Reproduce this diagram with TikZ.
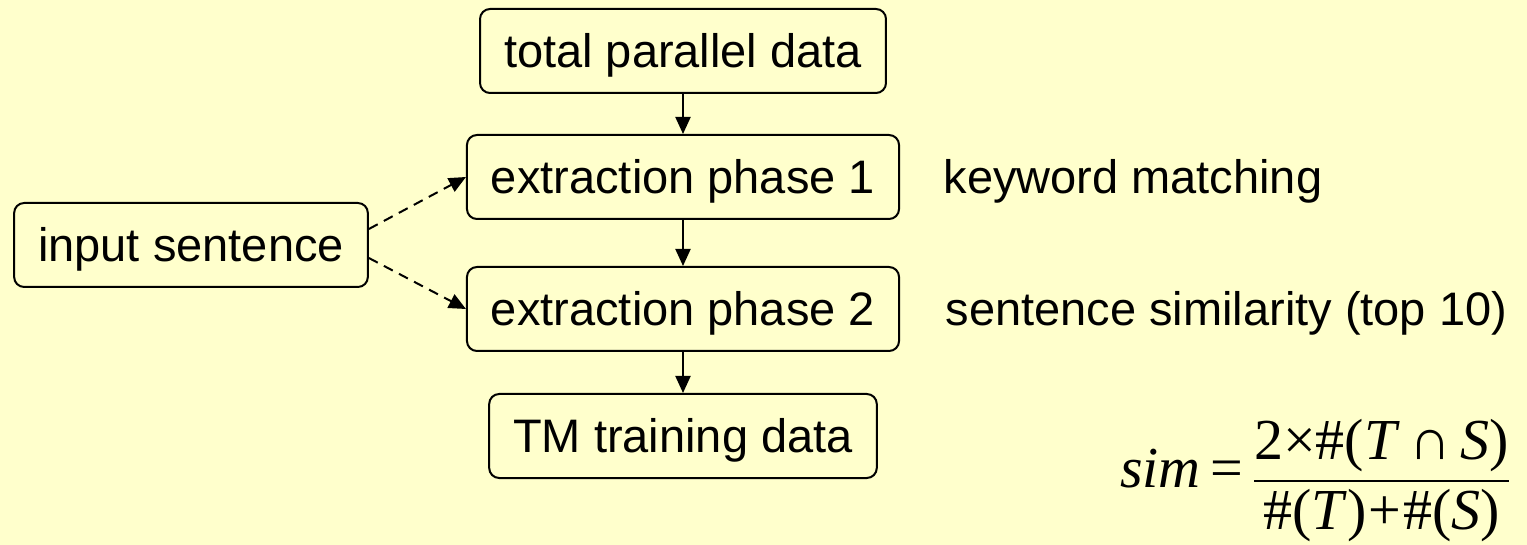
\documentclass[tikz,border=0pt]{standalone}
\usepackage{amsmath}
\usepackage{fontspec}
\setmainfont{Liberation Sans}
\newfontfamily\timesfont{Liberation Serif}
\usetikzlibrary{arrows.meta,positioning}
\definecolor{slidebg}{HTML}{FFFFCC}
\newcommand{\bigtext}{\fontsize{47}{56}\selectfont}
\newcommand{\formulatext}{\fontsize{58}{68}\selectfont\timesfont}

\begin{document}
\begin{tikzpicture}[
  x=1pt, y=-1pt,
  node distance=40pt,
  stage/.style={rectangle, rounded corners=10pt, draw=black, line width=2pt,
                inner xsep=24pt, minimum height=84pt,
                text height=36pt, text depth=2pt, font=\bigtext},
  flow/.style={-{Triangle[length=17pt,width=15pt]}, line width=2pt},
  query/.style={flow, dash pattern=on 10pt off 7pt},
  note/.style={font=\bigtext, anchor=base west},
]
  \fill[slidebg] (0,0) rectangle (1527,545);
  \useasboundingbox (0,0) rectangle (1527,545);

  % main extraction chain
  \node[stage] (total) at (683,51) {total parallel data};
  \node[stage, below=40pt of total] (phaseA) {extraction phase 1};
  \node[stage, below=46pt of phaseA] (phaseB) {extraction phase 2};
  \node[stage, below=41pt of phaseB] (tmdata) {TM training data};

  \node[stage] (input) at (191,245) {input sentence};

  \draw[flow] (total) -- (phaseA);
  \draw[flow] (phaseA) -- (phaseB);
  \draw[flow] (phaseB) -- (tmdata);

  \draw[query] ([yshift=16pt]input.east) -- (phaseA.west);
  \draw[query] ([yshift=-13pt]input.east) -- (phaseB.west);

  % what each phase does
  \node[note] (kwnote) at ([xshift=40pt]phaseA.base east) {keyword matching};
  \node[note] (simnote) at ([xshift=42pt]phaseB.base east) {sentence similarity (top 10)};

  % similarity measure
  \node[anchor=west, font=\formulatext, inner sep=0pt] (simf) at (1120,481)
    {\textit{sim}\,=\,$\genfrac{}{}{2.5pt}{0}
      {\mbox{2×\#(\textit{T}\,∩\,\textit{S})}}
      {\mbox{\#(\textit{T})\kern2pt+\kern2pt\#(\textit{S})}}$};
\end{tikzpicture}
\end{document}
